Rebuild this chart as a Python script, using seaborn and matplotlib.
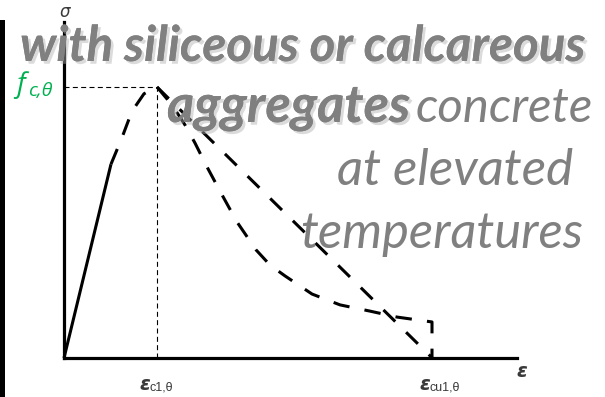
import matplotlib
matplotlib.use("Agg")
import matplotlib.pyplot as plt
import matplotlib.patheffects as pe
from matplotlib.patches import Rectangle
import pandas as pd
import seaborn as sns

# ---- data: strain in units of eps_c1,theta, stress in units of f_c,theta ----
eps_c1 = 1.0
eps_cu1 = 3.96

rise_solid_eps = [0.0, 0.505]
rise_solid_sig = [0.0, 0.715]
rise_dash_eps = [0.505, 0.62, 0.73, 0.86, 1.0]
rise_dash_sig = [0.715, 0.81, 0.91, 0.975, 1.0]

linear_eps = [eps_c1, eps_cu1]
linear_sig = [1.0, 0.0]

curve_eps = [1.0, 1.161, 1.301, 1.409, 1.527, 1.688, 1.860, 2.065, 2.215,
             2.376, 2.667, 2.968, 3.290, 3.581, 3.957, 3.957]
curve_sig = [1.0, 0.934, 0.860, 0.793, 0.712, 0.609, 0.502, 0.399, 0.343,
             0.303, 0.236, 0.196, 0.173, 0.151, 0.133, 0.0]

title_lines = ["with siliceous or calcareous", "aggregates", "concrete",
               "at elevated", "temperatures"]

# ---- figure ----
sns.set_theme(style="white")
plt.rcParams["font.family"] = ["Lato", "DejaVu Sans"]

W, H = 605, 397
fig = plt.figure(figsize=(W / 100, H / 100), dpi=100)
fig.patch.set_facecolor("white")

x0_px, y0_px, x1_px, ytop_px = 64, 358, 517, 22
ux, uy = 93.0, 271.0  # pixels per unit strain / stress
ax = fig.add_axes([x0_px / W, (H - y0_px) / H, (x1_px - x0_px) / W, (y0_px - ytop_px) / H])
ax.set_xlim(0, (x1_px - x0_px) / ux)
ax.set_ylim(0, (y0_px - ytop_px) / uy)
ax.set_facecolor("none")
for s in ["top", "right"]:
    ax.spines[s].set_visible(False)
for s in ["left", "bottom"]:
    ax.spines[s].set_color("black")
    ax.spines[s].set_linewidth(2.3)
ax.set_xticks([])
ax.set_yticks([])

LW = 2.2
DASH = (5.4, 5.0)

def draw(xs, ys, dashed):
    df = pd.DataFrame({"eps": xs, "sig": ys})
    sns.lineplot(data=df, x="eps", y="sig", ax=ax, color="black", lw=LW,
                 sort=False, estimator=None, legend=False)
    ln = ax.lines[-1]
    ln.set_clip_on(False)
    ln.set_solid_capstyle("butt")
    ln.set_dash_capstyle("butt")
    ln.set_solid_joinstyle("miter")
    if dashed:
        ln.set_dashes(DASH)

# reference lines to the peak
ax.plot([0, eps_c1], [1.0, 1.0], color="black", lw=0.8, dashes=(4.5, 3), clip_on=False)
ax.plot([eps_c1, eps_c1], [0, 1.0], color="black", lw=0.8, dashes=(4.5, 3), clip_on=False)

draw(rise_solid_eps, rise_solid_sig, False)
draw(rise_dash_eps, rise_dash_sig, True)
draw(linear_eps, linear_sig, True)
draw(curve_eps, curve_sig, True)
ax.set_xlabel("")
ax.set_ylabel("")

# black bar on the left edge
fig.add_artist(Rectangle((0, 0), 5 / W, (H - 20) / H, transform=fig.transFigure,
                         facecolor="black", edgecolor="none"))

# ---- axis labels ----
def ftxt(x, y, s, **kw):
    return fig.text(x / W, 1 - y / H, s, **kw)

dark = "#3a3a3a"
ftxt(65, 17, "σ", ha="center", va="baseline", fontsize=12, color=dark,
     fontstyle="italic", family=["DejaVu Sans"])
ftxt(522, 377, "ε", ha="center", va="baseline", fontsize=14, color=dark,
     fontstyle="italic", fontweight="bold", family=["DejaVu Sans"])

ftxt(150, 390, "ε", ha="right", va="baseline", fontsize=14, color=dark,
     fontstyle="italic", fontweight="bold", family=["DejaVu Sans"])
ftxt(150, 390, "c1,θ", ha="left", va="baseline", fontsize=9, color=dark,
     family=["Liberation Sans", "DejaVu Sans"])
ftxt(430, 390, "ε", ha="right", va="baseline", fontsize=14, color=dark,
     fontstyle="italic", fontweight="bold", family=["DejaVu Sans"])
ftxt(430, 390, "cu1,θ", ha="left", va="baseline", fontsize=9, color=dark,
     family=["Liberation Sans", "DejaVu Sans"])

green = "#00b050"
ftxt(16, 92, "f", ha="left", va="baseline", fontsize=20, color=green,
     fontstyle="italic", family=["Open Sans", "DejaVu Sans"])
ftxt(28, 96, "c,θ", ha="left", va="baseline", fontsize=14, color=green,
     fontstyle="italic", family=["Open Sans", "DejaVu Sans"])

# ---- heading text ----
grey = "#808080"
shadow = [pe.withSimplePatchShadow(offset=(2, -2), shadow_rgbFace="#b0b0b0", alpha=0.45),
          pe.Normal()]

fig.canvas.draw()
renderer = fig.canvas.get_renderer()

def fitted(s, left, right, base, **kw):
    t = ftxt(left, base, s, ha="left", va="baseline", fontsize=30, color=grey,
             fontstyle="italic", **kw)
    bb = t.get_window_extent(renderer)
    t.set_fontsize(30 * (right - left) / bb.width)
    return t

fitted(title_lines[0], 20, 585, 61, fontweight="bold", path_effects=shadow)
fitted(title_lines[1], 167, 410, 122, fontweight="bold", path_effects=shadow)
fitted(title_lines[2], 416, 593, 122)
fitted(title_lines[3], 337, 573, 185)
fitted(title_lines[4], 300, 582, 248)

fig.savefig("out.png", dpi=100)
